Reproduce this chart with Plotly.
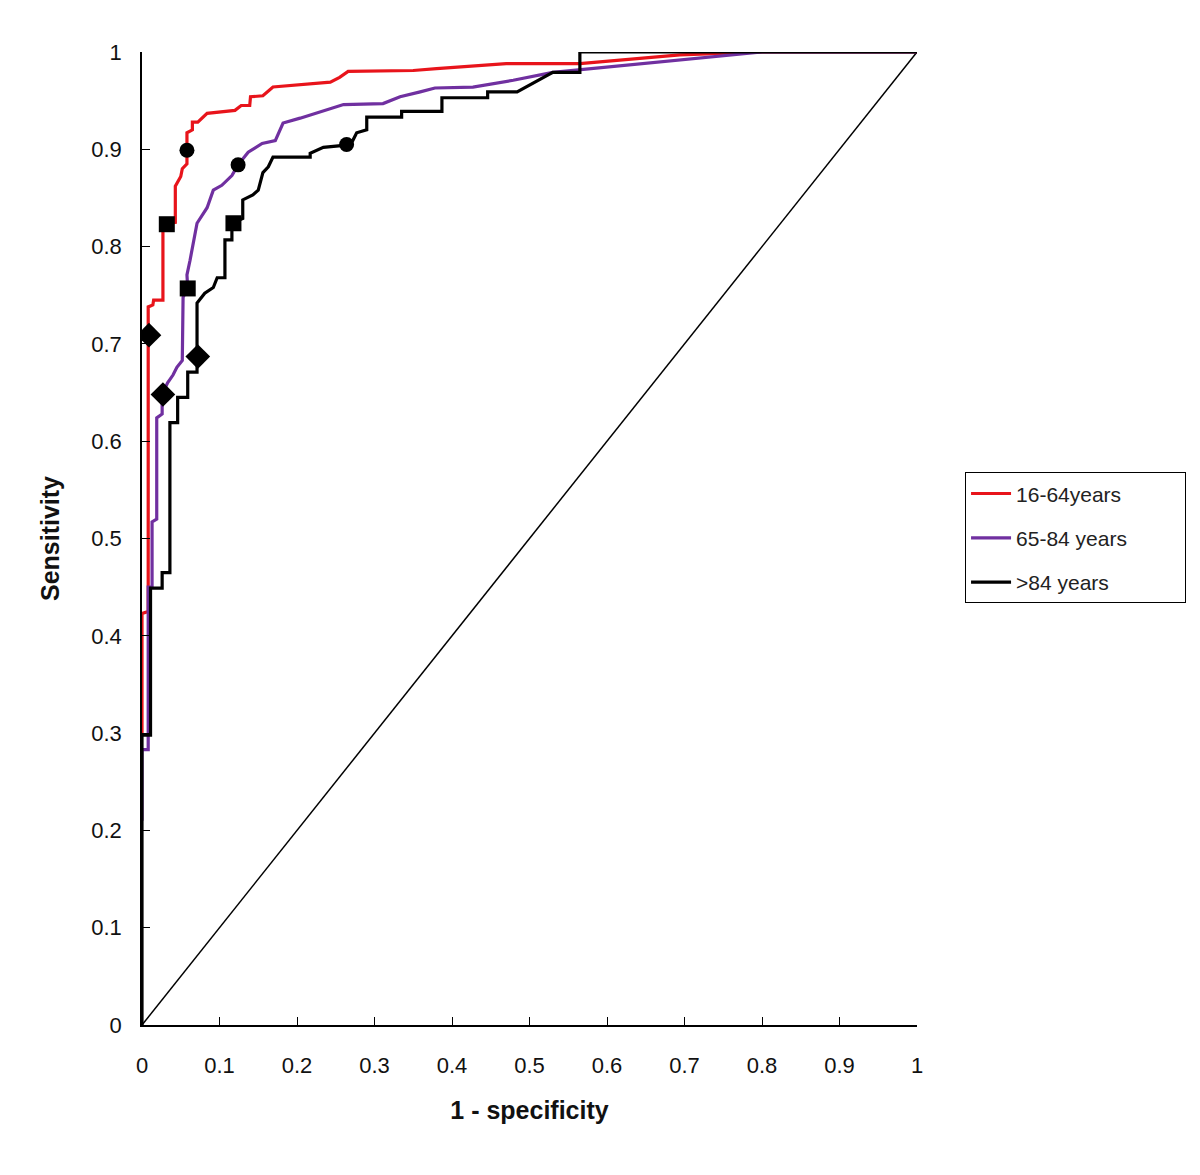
import plotly.graph_objects as go

# ---- data ----
series_names = ["16-64years", "65-84 years", ">84 years"]
series_colors = ["#e8141b", "#7030a0", "#000000"]

red_x = [0, 0, 0.008, 0.008, 0.014, 0.015, 0.027, 0.027, 0.043, 0.043, 0.050, 0.052, 0.058, 0.058,
         0.065, 0.065, 0.072, 0.078, 0.084, 0.12, 0.128, 0.139, 0.14, 0.156, 0.169, 0.243, 0.255,
         0.266, 0.35, 0.38, 0.47, 0.565, 0.694, 0.8, 1.0]
red_y = [0.30, 0.423, 0.425, 0.738, 0.740, 0.745, 0.745, 0.823, 0.825, 0.862, 0.872, 0.880, 0.885, 0.917,
         0.920, 0.928, 0.928, 0.932, 0.937, 0.940, 0.945, 0.945, 0.954, 0.955, 0.964, 0.969, 0.974,
         0.980, 0.981, 0.983, 0.988, 0.988, 0.997, 1.0, 1.0]

purple_x = [0, 0, 0.008, 0.008, 0.013, 0.013, 0.019, 0.019, 0.026, 0.026, 0.033, 0.040, 0.045, 0.052,
            0.053, 0.059, 0.058, 0.062, 0.071, 0.077, 0.084, 0.092, 0.103, 0.116, 0.124, 0.137,
            0.155, 0.172, 0.182, 0.204, 0.246, 0.26, 0.311, 0.333, 0.359, 0.378, 0.427, 0.479,
            0.53, 0.694, 0.8, 1.0]
purple_y = [0.21, 0.283, 0.283, 0.45, 0.45, 0.517, 0.52, 0.624, 0.628, 0.648, 0.66, 0.668, 0.676, 0.683,
            0.748, 0.757, 0.771, 0.786, 0.824, 0.832, 0.84, 0.858, 0.863, 0.873, 0.884, 0.897,
            0.906, 0.909, 0.927, 0.932, 0.942, 0.946, 0.947, 0.954, 0.959, 0.963, 0.964, 0.971,
            0.979, 0.992, 1.0, 1.0]

black_x = [0, 0, 0.011, 0.011, 0.026, 0.026, 0.036, 0.036, 0.046, 0.046, 0.059, 0.059, 0.071, 0.071,
           0.081, 0.092, 0.097, 0.107, 0.107, 0.116, 0.116, 0.13, 0.13, 0.143, 0.15, 0.156, 0.163,
           0.169, 0.217, 0.217, 0.234, 0.26, 0.272, 0.277, 0.29, 0.29, 0.335, 0.335, 0.387, 0.387,
           0.446, 0.446, 0.484, 0.53, 0.565, 0.565, 1.0]
black_y = [0, 0.298, 0.298, 0.449, 0.449, 0.465, 0.465, 0.619, 0.619, 0.645, 0.645, 0.671, 0.671, 0.742,
           0.752, 0.758, 0.768, 0.768, 0.807, 0.807, 0.824, 0.829, 0.848, 0.853, 0.858, 0.876, 0.882,
           0.892, 0.892, 0.896, 0.902, 0.904, 0.909, 0.917, 0.92, 0.933, 0.933, 0.939, 0.939, 0.953,
           0.953, 0.959, 0.959, 0.979, 0.979, 1.0, 1.0]

diag_x = [0, 1]
diag_y = [0, 1]

diamond_x = [0.009, 0.027, 0.072]
diamond_y = [0.709, 0.648, 0.687]
square_x = [0.032, 0.059, 0.118]
square_y = [0.823, 0.757, 0.824]
circle_x = [0.058, 0.124, 0.264]
circle_y = [0.899, 0.884, 0.905]

x_ticks = [0, 0.1, 0.2, 0.3, 0.4, 0.5, 0.6, 0.7, 0.8, 0.9, 1]
x_ticktext = ["0", "0.1", "0.2", "0.3", "0.4", "0.5", "0.6", "0.7", "0.8", "0.9", "1"]
y_ticks = [0, 0.1, 0.2, 0.3, 0.4, 0.5, 0.6, 0.7, 0.8, 0.9, 1]
y_ticktext = ["0", "0.1", "0.2", "0.3", "0.4", "0.5", "0.6", "0.7", "0.8", "0.9", "1"]

FONT = "Liberation Sans, Arial, sans-serif"
PAD = "\u00a0" * 9

fig = go.Figure()

fig.add_trace(go.Scatter(x=diag_x, y=diag_y, mode="lines",
                         line=dict(color="black", width=1.5), showlegend=False, hoverinfo="skip"))

for name, color, xs, ys in [
    (series_names[0], series_colors[0], red_x, red_y),
    (series_names[1], series_colors[1], purple_x, purple_y),
    (series_names[2], series_colors[2], black_x, black_y),
]:
    fig.add_trace(go.Scatter(x=xs, y=ys, mode="lines", name=name + PAD, legendgroup=name,
                             line=dict(color=color, width=3.2)))

for sym, xs, ys, sz in [("diamond", diamond_x, diamond_y, 19),
                        ("square", square_x, square_y, 16),
                        ("circle", circle_x, circle_y, 15)]:
    fig.add_trace(go.Scatter(x=xs, y=ys, mode="markers", showlegend=False,
                             marker=dict(symbol=sym, size=sz, color="black")))

axis_common = dict(
    showgrid=False, zeroline=False, showline=True, linecolor="black", linewidth=1.5,
    ticks="inside", ticklen=8, tickcolor="black", tickwidth=1,
)

fig.update_xaxes(range=[0, 1], tickvals=x_ticks, ticktext=x_ticktext,
                 ticklabelstandoff=20,
                 tickfont=dict(family=FONT, size=22, color="#111111"),
                 title=dict(text="<b>1 - specificity</b>", font=dict(family=FONT, size=25, color="#111111"),
                            standoff=24),
                 **axis_common)
fig.update_yaxes(range=[0, 1], tickvals=y_ticks, ticktext=y_ticktext,
                 ticklabelstandoff=14,
                 tickfont=dict(family=FONT, size=22, color="#111111"),
                 title=dict(text="<b>Sensitivity</b>", font=dict(family=FONT, size=25, color="#111111"),
                            standoff=25),
                 **axis_common)

fig.update_layout(
    width=1192, height=1167,
    margin=dict(l=134, r=283, t=44, b=150),
    plot_bgcolor="white", paper_bgcolor="white",
    legend=dict(x=1.062, y=0.568, xanchor="left", yanchor="top",
                bordercolor="black", borderwidth=1, bgcolor="white",
                font=dict(family=FONT, size=21, color="#222222"),
                tracegroupgap=14, itemwidth=40),
)

fig.write_html("out.html")
